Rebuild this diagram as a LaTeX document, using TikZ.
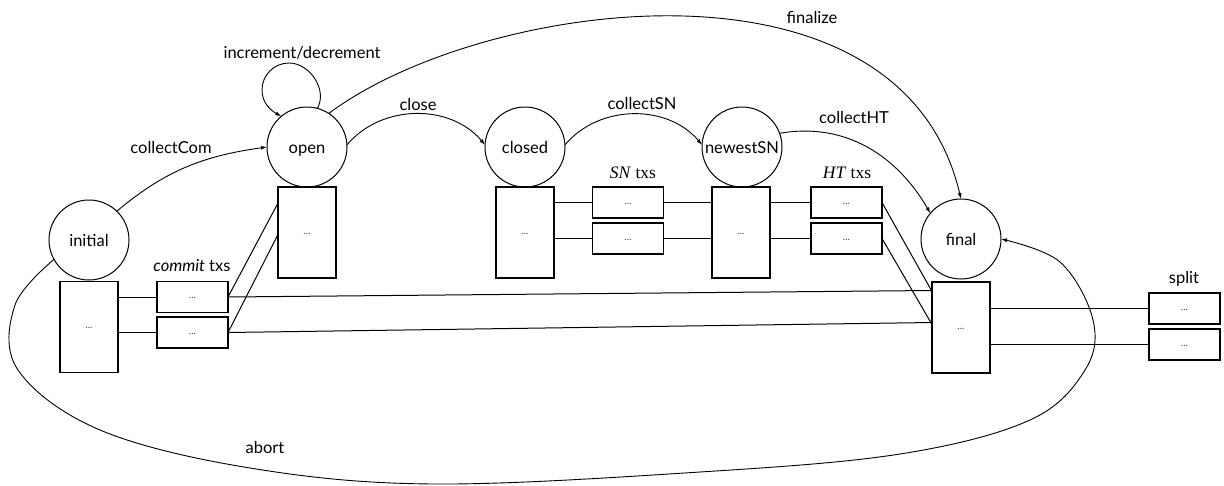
\documentclass[tikz,border=0pt]{standalone}
\usepackage{fontspec}
\setmainfont{Lato}
\newfontfamily\serifu{Liberation Serif}
\usetikzlibrary{arrows.meta,calc}
\newcommand\mydotsfont{\fontsize{10}{10}\selectfont}
\begin{document}
\begin{tikzpicture}[x=1pt,y=1pt,
  state/.style={draw,circle,minimum size=80pt,inner sep=0pt,outer sep=0pt,line width=1pt,
    text height=13pt,text depth=0pt,font=\fontsize{16.5}{19}\selectfont},
  blk/.style={draw,rectangle,minimum width=58pt,minimum height=91pt,inner sep=0pt,outer sep=0pt,
    line width=1.1pt,text height=3pt,text depth=0pt,font=\mydotsfont,text=black!70},
  tx/.style={draw,rectangle,minimum width=71pt,minimum height=31pt,inner sep=0pt,outer sep=0pt,
    line width=1.1pt,text height=3pt,text depth=0pt,font=\mydotsfont,text=black!70},
  lab/.style={anchor=base,inner sep=0pt,font=\fontsize{16.5}{19}\selectfont},
  serlab/.style={anchor=base,inner sep=0pt,font=\serifu\fontsize{17.5}{20}\selectfont},
  edge/.style={line width=0.9pt,-{Latex[length=6pt,width=4pt]}},
  link/.style={line width=1pt}
]
\useasboundingbox (0,0) rectangle (1224,-485);

% states
\node[state] (initial) at (89,-240) {initial};
\node[state] (open) at (307,-147) {open};
\node[state] (closed) at (525,-147) {closed};
\node[state] (newest) at (742,-147) {newestSN};
\node[state] (final) at (961,-239) {final};

% big blocks
\node[blk] (rI) at (89,-327) {...};
\node[blk] (rO) at (307,-232.5) {...};
\node[blk] (rC) at (525,-232.5) {...};
\node[blk] (rN) at (741,-232.5) {...};
\node[blk] (rF) at (961,-327.5) {...};

% tx boxes
\node[tx] (c1) at (192.5,-297) {...};
\node[tx] (c2) at (192.5,-332.5) {...};
\node[tx] (s1) at (628,-202.5) {...};
\node[tx] (s2) at (628,-238.5) {...};
\node[tx] (h1) at (846.5,-202.5) {...};
\node[tx] (h2) at (846.5,-238.5) {...};
\node[tx] (p1) at (1184.5,-308.5) {...};
\node[tx] (p2) at (1184.5,-344.5) {...};

% labels
\node[lab] (lcc) at (171,-153) {collectCom};
\node[lab] (lid) at (302,-58) {increment/decrement};
\node[lab] (lcl) at (418,-110) {close};
\node[lab] (lcs) at (642,-109) {collectSN};
\node[lab] (lch) at (854,-123) {collectHT};
\node[lab] (lfi) at (812,-23) {finalize};
\node[lab] (lab) at (265,-453) {abort};
\node[lab] (lsp) at (1184,-283) {split};
\node[lab] (lct) at (192,-271) {\textit{commit} txs};
\node[serlab] (lsn) at (633,-178) {\textit{SN} txs};
\node[serlab] (lht) at (847,-178) {\textit{HT} txs};

% transitions
\draw[edge] (initial.46) to[out=40,in=188] (open.west);
\draw[edge] (open.75) to[out=60,in=0] (289,-63) to[out=180,in=90] (262,-90) to[out=270,in=150] (open.130);
\draw[edge] (open.3) to[out=50,in=130] (closed.177);
\draw[edge] (closed.3) to[out=50,in=130] (newest.177);
\draw[edge] (newest.20) to[out=10,in=120] (final.140);
\draw[edge] (open.57) .. controls (480,0) and (900,60) .. (final.90);
\draw[edge] plot[smooth,tension=0.6] coordinates {(initial.209) (15,-305) (18,-370) (100,-430) (250,-468) (433,-484) (700,-472) (900,-454) (1030,-420) (1085,-370) (1093,-320) (1060,-262) (final.east)};

% links
\draw[link] (c1.west -| rI.east) -- (c1.west);
\draw[link] (c2.west -| rI.east) -- (c2.west);
\draw[link] (c1.east) -- ([yshift=29.5pt]rO.west);
\draw[link] (c2.east) -- ([yshift=-2pt]rO.west);
\draw[link] (c1.east) -- ([yshift=37pt]rF.west);
\draw[link] (c2.east) -- ([yshift=5pt]rF.west);
\draw[link] (s1.west -| rC.east) -- (s1.west);
\draw[link] (s2.west -| rC.east) -- (s2.west);
\draw[link] (s1.east) -- (s1.east -| rN.west);
\draw[link] (s2.east) -- (s2.east -| rN.west);
\draw[link] (h1.west -| rN.east) -- (h1.west);
\draw[link] (h2.west -| rN.east) -- (h2.west);
\draw[link] (h1.east) -- ([yshift=36pt]rF.west);
\draw[link] (h2.east) -- ([yshift=3pt]rF.west);
\draw[link] (p1.west -| rF.east) -- (p1.west);
\draw[link] (p2.west -| rF.east) -- (p2.west);
\end{tikzpicture}
\end{document}
